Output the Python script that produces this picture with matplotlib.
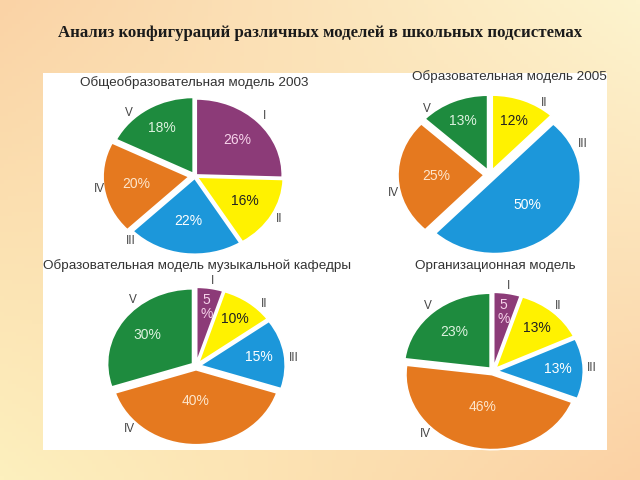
import numpy as np
import matplotlib
matplotlib.use("Agg")
import matplotlib.pyplot as plt
from matplotlib.patches import Rectangle

# ---------------- data ----------------
title = "Анализ конфигураций различных моделей в школьных подсистемах"

titles = ["Общеобразовательная модель 2003",
          "Образовательная модель 2005",
          "Образовательная модель музыкальной кафедры",
          "Организационная модель"]

labels_2003 = ["I", "II", "III", "IV", "V"]
values_2003 = [26, 16, 22, 20, 18]

labels_2005 = ["II", "III", "IV", "V"]
values_2005 = [12, 50, 25, 13]

labels_music = ["I", "II", "III", "IV", "V"]
values_music = [5, 10, 15, 40, 30]

labels_org = ["I", "II", "III", "IV", "V"]
values_org = [5, 13, 13, 46, 23]

pct_text_2003 = ["26%", "16%", "22%", "20%", "18%"]
pct_text_2005 = ["12%", "50%", "25%", "13%"]
pct_text_music = ["5\n%", "10%", "15%", "40%", "30%"]
pct_text_org = ["5\n%", "13%", "13%", "46%", "23%"]

# ---------------- style ----------------
col = {"I": "#8C3B78", "II": "#FFF200", "III": "#1C97DA", "IV": "#E5791F", "V": "#1E8B3E"}
txtcol = {"I": "#F6D2EA", "II": "#222222", "III": "#FFFFFF", "IV": "#FDE6CC", "V": "#DDF2DF"}

W, H = 640, 480
fig = plt.figure(figsize=(6.4, 4.8), dpi=100)

# background gradient
bg = fig.add_axes([0, 0, 1, 1], zorder=-10)
tl = np.array([250, 211, 166]) / 255
tr = np.array([253, 244, 206]) / 255
bl = np.array([253, 240, 190]) / 255
br = np.array([251, 209, 164]) / 255
yy, xx = np.mgrid[0:1:120j, 0:1:160j]
img = ((1 - yy)[..., None] * ((1 - xx)[..., None] * tl + xx[..., None] * tr)
       + yy[..., None] * ((1 - xx)[..., None] * bl + xx[..., None] * br))
bg.imshow(img, extent=[0, 1, 0, 1], aspect="auto", origin="upper")
bg.add_patch(Rectangle((43 / W, 1 - 450 / H), (607 - 43) / W, (450 - 73) / H,
                       facecolor="white", edgecolor="none"))
bg.set_xlim(0, 1); bg.set_ylim(0, 1); bg.axis("off")

fig.text(320 / W, 1 - 33 / H, title, ha="center", va="center",
         fontsize=12.1, fontweight="bold", family="Liberation Serif", color="#1a1a1a")

charts = [
    dict(vals=values_2003, labs=labels_2003, pcts=pct_text_2003, c=(195, 176), r=(86, 76),
         explode=[0.02, 0.03, 0.03, 0.07, 0.04], pd=[0.66, 0.64, 0.56, 0.62, 0.70],
         ld=1.13, lang={"III": -131, "V": 133}, lrad={},
         title=titles[0], tpos=(194, 83), tha="center"),
    dict(vals=values_2005, labs=labels_2005, pcts=pct_text_2005, c=(490, 175), r=(86, 75),
         explode=[0.07, 0.07, 0.07, 0.07], pd=[0.70, 0.52, 0.55, 0.72],
         ld=1.15, lang={"II": 57, "III": 21, "IV": -168, "V": 130}, lrad={},
         title=titles[1], tpos=(607, 77), tha="right"),
    dict(vals=values_music, labs=labels_music, pcts=pct_text_music, c=(196, 366), r=(85, 75),
         explode=[0.05, 0.05, 0.05, 0.05, 0.05], pd=[0.74, 0.72, 0.70, 0.42, 0.66],
         ld=1.15, lang={"I": 80, "II": 46, "III": 5, "IV": -133, "V": 130}, lrad={"I": 1.15},
         title=titles[2], tpos=(197, 266), tha="center"),
    dict(vals=values_org, labs=labels_org, pcts=pct_text_org, c=(493, 371), r=(86, 75),
         explode=[0.05, 0.05, 0.05, 0.05, 0.05], pd=[0.74, 0.72, 0.70, 0.44, 0.64],
         ld=1.15, lang={"IV": -133}, lrad={},
         title=titles[3], tpos=(495, 266), tha="center"),
]

for ch in charts:
    cx, cy = ch["c"]
    rx, ry = ch["r"]
    ax = fig.add_axes([(cx - rx) / W, 1 - (cy + ry) / H, 2 * rx / W, 2 * ry / H])
    wedges, _ = ax.pie(ch["vals"], colors=[col[l] for l in ch["labs"]],
                       startangle=90, counterclock=False, explode=ch["explode"],
                       wedgeprops=dict(edgecolor="white", linewidth=1.2))
    ax.set_aspect("auto")
    ax.set_xlim(-1, 1); ax.set_ylim(-1, 1)
    ax.axis("off")
    for w, lab, pt, d in zip(wedges, ch["labs"], ch["pcts"], ch["pd"]):
        w.set_clip_on(False)
        mid = np.deg2rad((w.theta1 + w.theta2) / 2)
        ox, oy = w.center
        ax.text(ox + d * np.cos(mid), oy + d * np.sin(mid), pt, ha="center", va="center",
                fontsize=10, color=txtcol[lab], family="Liberation Sans",
                linespacing=1.0, clip_on=False)
        ang = np.deg2rad(ch["lang"][lab]) if lab in ch["lang"] else mid
        lr = ch["lrad"].get(lab, ch["ld"])
        ax.text(lr * np.cos(ang), lr * np.sin(ang), lab, ha="center", va="center",
                fontsize=8.5, color="#444444", family="Liberation Sans", clip_on=False)
    tx, ty = ch["tpos"]
    fig.text(tx / W, 1 - ty / H, ch["title"], ha=ch["tha"], va="center",
             fontsize=9.7, color="#333333", family="Liberation Sans")

fig.savefig("out.png", dpi=100)
